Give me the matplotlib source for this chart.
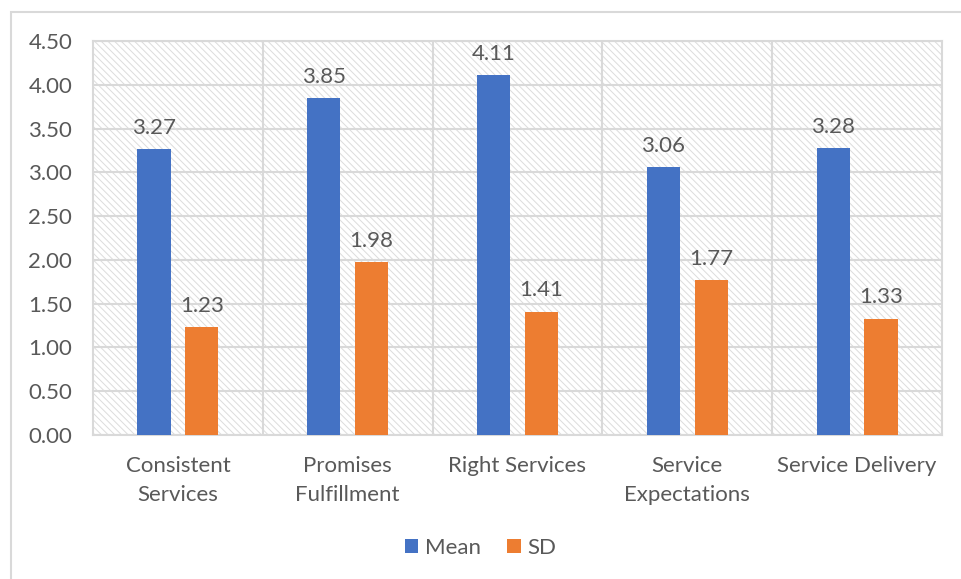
import matplotlib.pyplot as plt
import matplotlib.patches as mpatches
import numpy as np

plt.rcParams['font.family'] = ['Lato', 'DejaVu Sans']
plt.rcParams['hatch.linewidth'] = 0.7

categories = ['Consistent\nServices', 'Promises\nFulfillment', 'Right Services',
              'Service\nExpectations', 'Service Delivery']
mean_vals = [3.27, 3.85, 4.11, 3.06, 3.28]
sd_vals = [1.23, 1.98, 1.41, 1.77, 1.33]

blue = '#4472C4'
orange = '#ED7D31'
grey = '#D9D9D9'
txt = '#595959'
fs = 16

fig = plt.figure(figsize=(9.61, 5.79), dpi=100)
# chart frame
fig.patches.append(mpatches.Rectangle((11 / 961, -0.1), 1.1, 1 - 12 / 579 + 0.1,
                                      transform=fig.transFigure, fill=False,
                                      edgecolor=grey, linewidth=1.5))

ax = fig.add_axes([93 / 961, 144 / 579, 849 / 961, 394 / 579])
x = np.arange(len(categories))
ax.set_xlim(-0.5, len(categories) - 0.5)
ax.set_ylim(0, 4.5)

# hatched plot area
ax.add_patch(mpatches.Rectangle((-0.5, 0), len(categories), 4.5, facecolor='white',
                                edgecolor='#DCDCDC', linewidth=0, hatch='\\\\\\\\\\',
                                zorder=0))

yt = np.arange(0, 4.51, 0.5)
ax.set_yticks(yt)
ax.set_yticklabels([f'{v:.2f}' for v in yt])
for v in yt:
    ax.axhline(v, color=grey, linewidth=1.5, zorder=1)
for b in np.arange(0.5, len(categories) - 0.5, 1):
    ax.axvline(b, color=grey, linewidth=1.5, zorder=1)

w = 0.195
off = 0.141
b1 = ax.bar(x - off, mean_vals, w, color=blue, label='Mean', zorder=3)
b2 = ax.bar(x + off, sd_vals, w, color=orange, label='SD', zorder=3)
for bars, vals in ((b1, mean_vals), (b2, sd_vals)):
    for r, v in zip(bars, vals):
        ax.annotate(f'{v:.2f}', (r.get_x() + r.get_width() / 2, v),
                    xytext=(0, 8), textcoords='offset points', ha='center',
                    va='bottom', fontsize=fs, color=txt)

ax.set_xticks(x)
ax.set_xticklabels(categories, fontsize=fs, color=txt, linespacing=1.6)
ax.tick_params(axis='y', labelsize=fs, labelcolor=txt, length=0, pad=15)
ax.tick_params(axis='x', length=0, pad=15)
for s in ax.spines.values():
    s.set_color(grey)
    s.set_linewidth(1.5)

fig.legend(handles=[b1, b2], loc='center', bbox_to_anchor=(0.5, 1 - 548 / 579),
           ncol=2, frameon=False, fontsize=fs, labelcolor=txt, handlelength=0.6,
           handleheight=0.6, handletextpad=0.3, columnspacing=1.2)

fig.savefig('out.png', dpi=100)
